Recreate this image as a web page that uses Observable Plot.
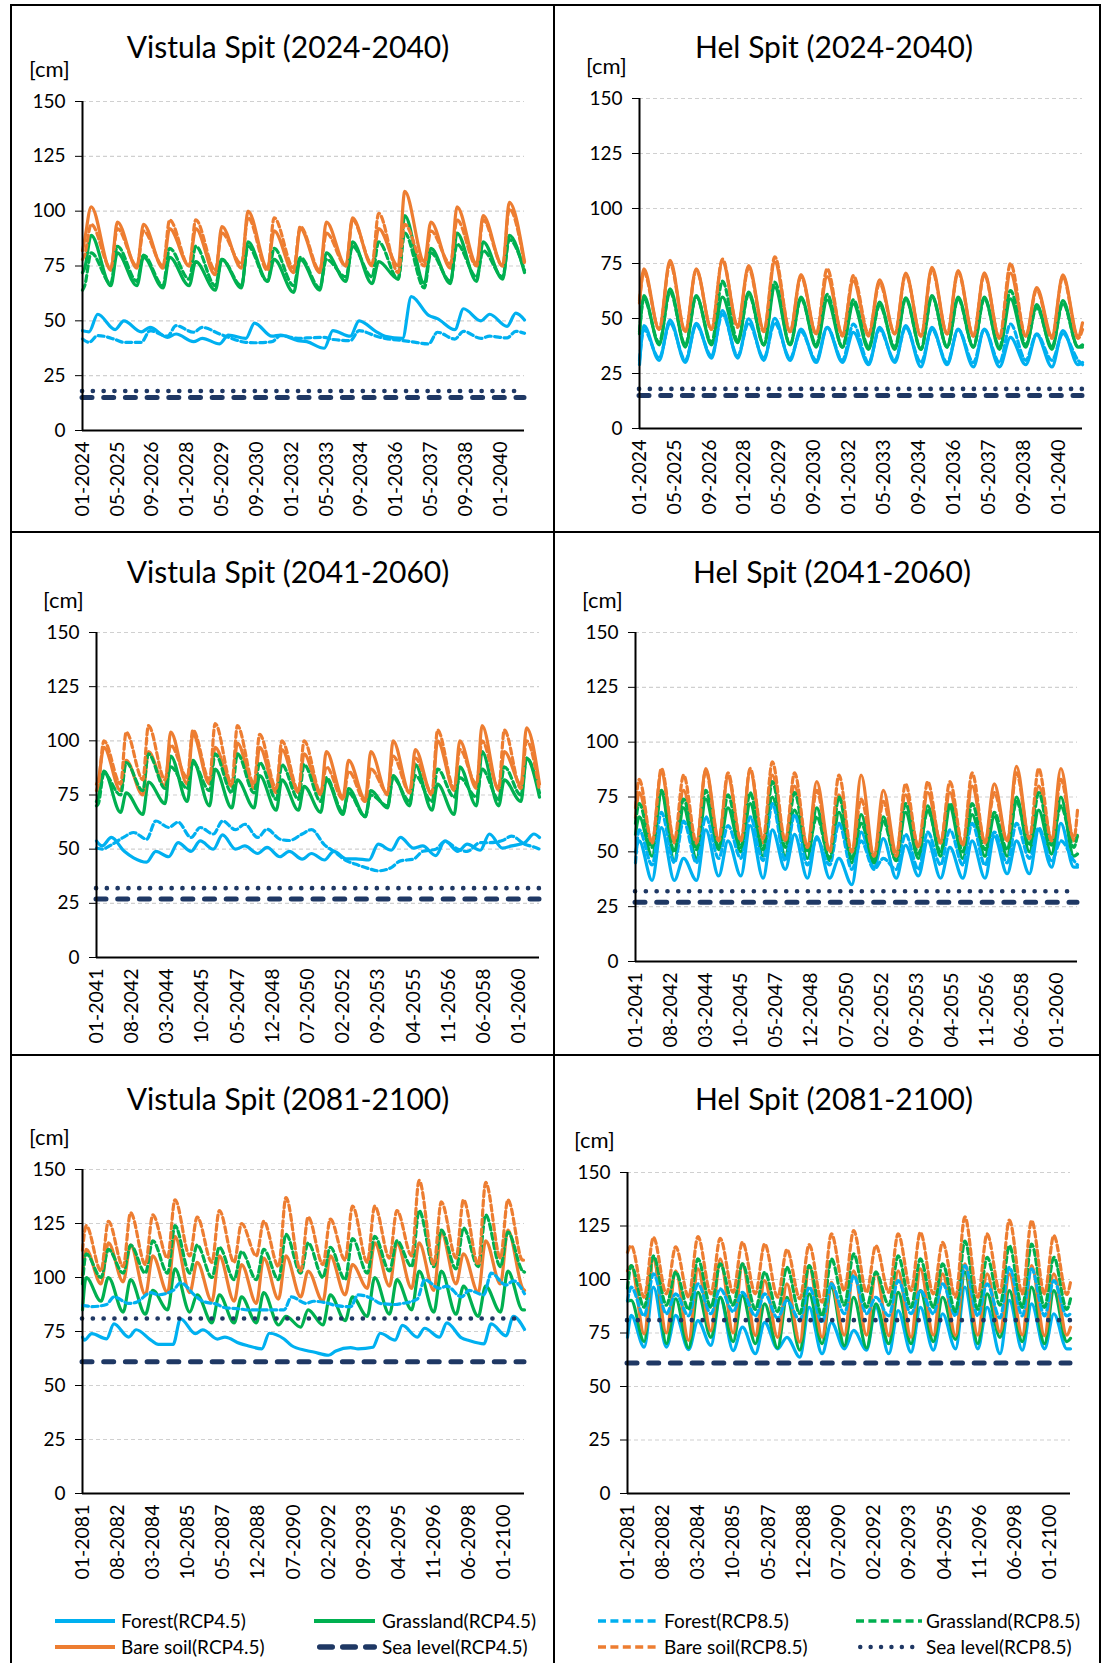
<!DOCTYPE html>
<html>
<head>
<meta charset="utf-8">
<script src="https://cdn.jsdelivr.net/npm/d3@7"></script>
<script src="https://cdn.jsdelivr.net/npm/@observablehq/plot@0.6"></script>
<style>
html,body{margin:0;padding:0;background:#fff;}
#page{position:relative;width:1111px;height:1663px;overflow:hidden;background:#fff;font-family:Lato,"Open Sans",sans-serif;color:#000;}
.bar{position:absolute;background:#000;}
.ptitle{position:absolute;font-size:30px;white-space:nowrap;transform:translate(-50%,-50%);line-height:1;}
.unit{position:absolute;font-size:22px;white-space:nowrap;transform:translateY(-50%);line-height:1;}
.lg{position:absolute;white-space:nowrap;font-size:19px;line-height:1;}
.lg svg{position:absolute;top:-5px;}
.lg span{position:absolute;top:-10px;}
</style>
</head>
<body>
<div id="page"></div>
<script>
// ---------------- DATA ----------------
const panelTitles = ["Vistula Spit (2024-2040)", "Hel Spit (2024-2040)", "Vistula Spit (2041-2060)", "Hel Spit (2041-2060)", "Vistula Spit (2081-2100)", "Hel Spit (2081-2100)"];
const unitLabel = "[cm]";
const yTicks = [0, 25, 50, 75, 100, 125, 150];
const ticks1 = ["01-2024","05-2025","09-2026","01-2028","05-2029","09-2030","01-2032","05-2033","09-2034","01-2036","05-2037","09-2038","01-2040"];
const ticks2 = ["01-2041","08-2042","03-2044","10-2045","05-2047","12-2048","07-2050","02-2052","09-2053","04-2055","11-2056","06-2058","01-2060"];
const ticks3 = ["01-2081","08-2082","03-2084","10-2085","05-2087","12-2088","07-2090","02-2092","09-2093","04-2095","11-2096","06-2098","01-2100"];
const legendLabels = ["Forest(RCP4.5)", "Grassland(RCP4.5)", "Bare soil(RCP4.5)", "Sea level(RCP4.5)", "Forest(RCP8.5)", "Grassland(RCP8.5)", "Bare soil(RCP8.5)", "Sea level(RCP8.5)"];

// sea level per panel [V1,H1,V2,H2,V3,H3]
const seaRCP45 = [15, 15, 27, 27, 61, 61];
const seaRCP85 = [18, 18, 32, 32, 81, 81];

// Each series: [first month value, then per year the two seasonal turning points (in month order), last month value]
// Months of year (0 = Jan) of the two annual turning points
const V1_forestMonths = [3, 7], V1_landMonths = [1, 4];
const H1_months = [2, 9];
const V2_forestMonths = [3, 8], V2_landMonths = [1, 4];
const H2_months = [2, 9];
const V3_forestMonths = [1, 5], V3_landMonths = [2, 10];
const H3_months = [2, 9];

// Vistula Spit 2024-2040
const V1_forest45 = [45.5, 45,53, 46,50, 45,47, 42.5,44, 40.5,42, 39.5,43.5, 42,49, 43,43.5, 41,40.5, 37.5,45.5, 43,50, 45,43, 42,61, 52.5,51, 46,55.5, 50,53, 47.5,53.5, 50.4];
const V1_grass45 = [72, 74,89, 66,81, 66,79, 65,79, 66,77, 64,78, 65,86, 68,78, 63,78, 64,81, 68,86, 67,77, 69,98, 67,83, 67,90, 68,86, 69,89, 72];
const V1_bare45 = [82, 87,102, 73,95, 74,94, 74,92, 75,92, 71,93, 74,100, 74,91, 72,92, 72,95, 75,97, 75,92, 75,109, 77,95, 74,102, 76,98, 75,104, 77];
const V1_forest85 = [41.7, 40.2,43.3, 41.5,40.2, 40.2,45.5, 43,47.8, 44.8,47, 44,42.5, 40.2,40, 40.5,43.3, 42,42.2, 42.5,41.5, 41,45.5, 43,42, 41,40.5, 39.5,44.8, 41.7,45.2, 42,43, 42.2,45.2, 44.3];
const V1_grass85 = [64, 66,81, 67,84, 68,80, 66,83, 69,84, 66,78, 66,84, 68,83, 66,79, 65,78, 70,84, 70,86, 69,90, 65,81, 68,85, 70,82, 70,87, 73];
const V1_bare85 = [78, 80,94, 74,92, 75,91, 75,96, 75,96, 73,90, 76,97, 73,97, 74,93, 73,90, 75,96, 76,99, 72,94, 75,91, 76,96, 75,96, 75,101, 76];

// Hel Spit 2024-2040
const H1_forest45 = [29, 46.8,31, 49.3,30, 47.8,32, 53.6,32, 49.8,31, 50.1,31, 45.2,30, 46,30, 43.7,29, 46,30, 46.8,28, 46,29, 45.2,28, 45.2,28, 41.4,29, 42.7,28, 44.5,29, 30];
const H1_grass45 = [43, 60.4,38, 63.5,37, 60.4,38, 59.7,39, 62,38, 64.2,38, 59.7,37, 58.4,37, 56.6,36, 57.4,36, 59.4,36, 60.4,37, 59.7,37, 59.7,36, 58.9,37, 56.3,36, 58.1,37, 37];
const H1_bare45 = [57, 72.6,45, 76.4,44, 72.6,45, 76,47, 74,45, 75.6,44, 70,43, 69,43, 67,42, 67.6,43, 70.6,42, 73.3,43, 71.8,42, 70.7,41, 70.6,42, 64,42, 69.8,42, 48];
const H1_forest85 = [31, 45,32, 48,31, 47,33, 52,33, 48,32, 48,32, 44,31, 46,31, 47.5,30, 45,31, 46,30, 45,30, 45,30, 45,30, 47.5,31, 43,31, 43,31, 29];
const H1_grass85 = [44, 59,39, 62,38, 60,39, 67,40, 61,38, 66.5,38, 59,38, 61,37, 58.5,37, 56,37, 59,36, 60,37, 59,37, 59,37, 62.7,38, 55,37, 57,37, 38];
const H1_bare85 = [58, 71,45, 75,44, 72,45, 77,46, 73,44, 78,44, 69,43, 72.6,42, 69.5,43, 66,43, 70,42, 72,43, 71,42, 70,41, 75,42, 63,41, 69,41, 45];

// Vistula Spit 2041-2060
const V2_forest45 = [53.8, 51.5,55.4, 49,46, 44,49, 46.5,53, 49,53.8, 50,56.6, 50,51.5, 48,50.8, 46.5,49, 45.4,48, 45,49, 45.5,45.5, 45,52.3, 49.5,55.4, 50.5,51.5, 47,53.8, 49,52.3, 49.5,57, 50.5,51.5, 53,57, 55.4];
const V2_grass45 = [72, 74,86, 67,76, 66,81, 71,93, 72,91, 70,87, 69,82, 69,84, 68,82, 68,79, 67,82, 66,78, 65,77, 69,84, 70,89, 68,80, 66,88, 70,95, 70,82, 72,92, 74];
const V2_bare45 = [80, 82,97, 77,91, 75,95, 79,104, 80,103, 80,97, 79,99, 78,97, 76,96, 76,94, 75,95, 74,91, 73,95, 75,100, 76,96, 75,100, 77,100, 78,107, 77,95, 80,106, 80];
const V2_forest85 = [50.5, 50,52, 55.7,57.7, 54.6,63, 60,62.5, 55.4,60, 57,63, 59,61.5, 55.4,59.2, 54.6,54, 57,59, 52,49, 44.6,43, 41,40, 41.5,44.6, 45.4,49, 50,53.5, 50,49, 53,53, 54,56, 52.3,51, 50];
const V2_grass85 = [70, 71,85, 75,90, 77,94, 78,88, 78,90, 77,94, 76,94, 76,90, 73,89, 73,89, 72,83, 67,76, 65,75, 70,83, 72,84, 72,87, 74,83, 74,87, 73,88, 75,92, 76];
const V2_bare85 = [77, 80,100, 80,104, 82,107, 82,98, 83,105, 82,108, 80,107, 80,103, 78,100, 77,100, 76,88, 73,86, 72,87, 76,93, 76,92, 76,105, 78,96, 80,100, 78,105, 78,100, 77];

// Hel Spit 2041-2060
const H2_forest45 = [50, 55,37, 61,37, 47,37, 60,39, 55,39, 62,38, 60,42, 58,38, 57,38, 47,35, 59,43, 56,38, 53,39, 55,38, 52,38, 55,38, 57,40, 55,40, 60,43, 63,43, 43];
const H2_grass45 = [58, 66,48, 77,46, 70,47, 74,51, 70,50, 72,48, 75,48, 69,47, 70,46, 68,45, 67,45, 66,46, 68,47, 71,48, 70,47, 67,48, 66,48, 75,50, 69,49, 75,48, 49];
const H2_bare45 = [65.6, 77,55, 86,54, 78,53, 88,56, 84,55, 87,54, 85,55, 80,53, 82,51, 76,50, 85,48, 78,50, 76,53, 77,55, 77,53, 80,55, 81,55, 89,56, 80,56, 88,55, 57];
const H2_forest85 = [45, 60,44, 68,45, 64,45, 66,47, 62,47, 66,46, 72,46, 67,44, 56,44, 63,42, 55,42, 47,42, 58,42, 59,44, 60,44, 63,44, 59,45, 63,47, 61,46, 55,46, 44];
const H2_grass85 = [63, 72,52, 78,50, 74,51, 78,52, 76,52, 77,51, 82,52, 77,50, 66,47, 75,47, 63,46, 64,46, 72,49, 69,50, 72,50, 72,51, 68,51, 73,53, 77,53, 71,52, 58];
const H2_bare85 = [70, 83,54, 88,55, 85,54, 87,55, 86,55, 88,56, 91,55, 86,52, 78,50, 85,50, 74,48, 73,48, 81,52, 82,54, 82,53, 86,54, 77,55, 86,56, 88,55, 83,56, 69];

// Vistula Spit 2081-2100
const V3_forest45 = [72.4, 71,74, 71.6,78.5, 72.4,75.8, 71,69, 69,80.9, 74,75.8, 71.5,72.4, 69.5,68.5, 67,74.2, 71.5,68.5, 66.2,65.5, 64,66, 67.5,67, 67.7,74.2, 71,77.8, 72.4,76.5, 72.4,79, 72,70.8, 69.3,78.5, 73,82, 76];
const V3_grass45 = [85, 100,89, 100,84, 99,83, 94,85, 104,84, 92,79, 92,79, 91,79, 93,78, 82,77, 85,78, 92,80, 91,82, 100,83, 99,85, 103,84, 103,83, 96,82, 96,84, 103,85, 85];
const V3_bare45 = [101, 113,97, 116,98, 115,92, 110,93, 119,93, 107,89, 110,89, 106,88, 109,90, 110,91, 103,89, 110,92, 106,95, 116,96, 116,95, 116,94, 121,97, 111,93, 117,97, 122,95, 94];
const V3_forest85 = [87, 87,86.5, 87.5,91, 88,88.5, 93,92, 94,97.5, 91.5,89, 87.5,86, 85.5,85, 85,85, 85,91, 88,89, 88,87, 86.5,92, 90,88, 87.5,88, 90,99, 95,96, 91,94, 92,102, 96.5,98.5, 92.5];
const V3_grass85 = [97, 111,100, 113,102, 115,102, 117,102, 124,102, 115,100, 114,99, 112,99, 113,99, 120,102, 116,100, 114,99, 118,102, 119,103, 117,105, 131,105, 122,104, 123,105, 129,105, 121,103, 102.5];
const V3_bare85 = [112.6, 124,103, 126,105, 130,106, 129,109, 136,110, 128,107, 131,107, 125,110, 126,105, 137,103, 128,106, 127,108, 133,107, 133,109, 131,110, 145,106, 135,109, 136,106, 144,109, 136,108, 108];

// Hel Spit 2081-2100
const H3_forest45 = [73, 83.2,68.4, 96.4,68.4, 83.2,67.2, 80.8,69.2, 91.7,66.8, 77.7,65.3, 80,67.6, 73,63.7, 87,65.3, 80,67.6, 76.2,67, 87,65.3, 85.5,66, 87,67, 84,67.6, 96.4,67.6, 87,65.3, 90.2,67, 88.6,67.6, 84,67.6, 67.6];
const H3_grass45 = [90, 90.2,71, 110.4,70, 91,68, 94,73, 91.7,71, 92.5,70, 88.6,68, 91.7,67, 93.3,70, 96.4,69, 91.7,68, 88.6,70, 94,70, 94.8,71, 91.7,72, 103.4,70, 93.3,73, 94.8,71, 96.4,70, 94.8,71, 72.5];
const H3_bare45 = [104, 106.5,74.6, 109.6,75, 104,71.5, 105,76, 109.6,75, 107.3,73.8, 99.5,73, 98,70.7, 106.5,73, 98.7,74, 104,74, 103.4,73.8, 104,73, 105,74, 102.6,73.8, 107.3,74, 102.6,75.4, 102.6,74, 106.5,73.8, 102.6,74, 77.7];
const H3_forest85 = [90, 96.4,83, 102.6,84, 93.3,83, 98,84, 95.6,85, 94,83, 93.3,82, 90.2,81, 96.4,80, 98,84, 101.8,84, 91.7,83, 99.5,84, 94.8,84, 98,83, 106.5,83, 98,82, 105.7,83, 105,83, 99.5,83, 84];
const H3_grass85 = [96, 106.5,87, 111,88, 103.4,86, 109.6,87, 107.3,88, 107.3,86, 103.4,85, 105.7,84, 106.5,83, 109.6,88, 112,87, 103.4,88, 111,87, 109.6,87, 107.3,85, 118,86, 110.4,88, 115.8,87, 116.6,87, 110.4,86, 91];
const H3_bare85 = [112.7, 115.8,91.7, 119.7,93.3, 115.3,91.7, 120,93.3, 119.2,94, 117.4,93.3, 116.6,91.7, 114,91, 116.3,89.4, 121.3,94.8, 122.8,94, 115.8,94, 121.3,94.8, 122,93.3, 117.4,91.7, 129.3,91.7, 121.3,94, 127.8,93.3, 127.5,93.3, 120.5,93, 98.7];

// ---------------- PANEL DEFINITIONS ----------------
const panels = [
  {title: panelTitles[0], start: 2024, months: 204, ticks: ticks1, forestMonths: V1_forestMonths, landMonths: V1_landMonths,
   series: {fo45: V1_forest45, gr45: V1_grass45, bs45: V1_bare45, fo85: V1_forest85, gr85: V1_grass85, bs85: V1_bare85}, sea45: seaRCP45[0], sea85: seaRCP85[0]},
  {title: panelTitles[1], start: 2024, months: 204, ticks: ticks1, forestMonths: H1_months, landMonths: H1_months,
   series: {fo45: H1_forest45, gr45: H1_grass45, bs45: H1_bare45, fo85: H1_forest85, gr85: H1_grass85, bs85: H1_bare85}, sea45: seaRCP45[1], sea85: seaRCP85[1]},
  {title: panelTitles[2], start: 2041, months: 240, ticks: ticks2, forestMonths: V2_forestMonths, landMonths: V2_landMonths,
   series: {fo45: V2_forest45, gr45: V2_grass45, bs45: V2_bare45, fo85: V2_forest85, gr85: V2_grass85, bs85: V2_bare85}, sea45: seaRCP45[2], sea85: seaRCP85[2]},
  {title: panelTitles[3], start: 2041, months: 240, ticks: ticks2, forestMonths: H2_months, landMonths: H2_months,
   series: {fo45: H2_forest45, gr45: H2_grass45, bs45: H2_bare45, fo85: H2_forest85, gr85: H2_grass85, bs85: H2_bare85}, sea45: seaRCP45[3], sea85: seaRCP85[3]},
  {title: panelTitles[4], start: 2081, months: 240, ticks: ticks3, forestMonths: V3_forestMonths, landMonths: V3_landMonths,
   series: {fo45: V3_forest45, gr45: V3_grass45, bs45: V3_bare45, fo85: V3_forest85, gr85: V3_grass85, bs85: V3_bare85}, sea45: seaRCP45[4], sea85: seaRCP85[4]},
  {title: panelTitles[5], start: 2081, months: 240, ticks: ticks3, forestMonths: H3_months, landMonths: H3_months,
   series: {fo45: H3_forest45, gr45: H3_grass45, bs45: H3_bare45, fo85: H3_forest85, gr85: H3_grass85, bs85: H3_bare85}, sea45: seaRCP45[5], sea85: seaRCP85[5]}
];

// ---------------- LAYOUT & STYLE ----------------
const layout = [
  {x0: 82, x1: 524, y0: 101, y1: 430, tx: 288, ty: 46},
  {x0: 639, x1: 1082, y0: 98, y1: 428, tx: 834, ty: 46},
  {x0: 96, x1: 539, y0: 632, y1: 957, tx: 288, ty: 571},
  {x0: 635, x1: 1077, y0: 632, y1: 961, tx: 832, ty: 571},
  {x0: 82, x1: 524, y0: 1169, y1: 1493, tx: 288, ty: 1098},
  {x0: 627, x1: 1070, y0: 1172, y1: 1493, tx: 834, ty: 1098}
];
const C_FOREST = "#00B0F0", C_GRASS = "#00B050", C_BARE = "#ED7D31", C_SEA = "#1F3864";
const seriesStyles = [
  {key: "fo45", color: C_FOREST, dash: null},
  {key: "gr45", color: C_GRASS, dash: null},
  {key: "bs45", color: C_BARE, dash: null},
  {key: "fo85", color: C_FOREST, dash: "6,3.5"},
  {key: "gr85", color: C_GRASS, dash: "6,3.5"},
  {key: "bs85", color: C_BARE, dash: "6,3.5"}
];
const ML = 60, MR = 12, MT = 12, MB = 95;

const page = document.getElementById("page");
function addDiv(cls, css, text) {
  const d = document.createElement("div");
  d.className = cls;
  Object.assign(d.style, css);
  if (text != null) d.textContent = text;
  page.appendChild(d);
  return d;
}

// frame lines
[[10, 4, 1091, 2], [10, 4, 2, 1659], [553, 4, 2, 1659], [1099, 4, 2, 1659], [10, 531, 1091, 2], [10, 1054, 1091, 2]]
  .forEach(([l, t, w, h]) => addDiv("bar", {left: l + "px", top: t + "px", width: w + "px", height: h + "px"}));

function vertices(values, offsets, N) {
  const years = (values.length - 2) / 2;
  const pts = [{m: 0, v: values[0]}];
  for (let y = 0; y < years; y++) {
    for (let k = 0; k < 2; k++) pts.push({m: 12 * y + offsets[k], v: values[1 + 2 * y + k]});
  }
  pts.push({m: N - 1, v: values[values.length - 1]});
  return pts;
}

panels.forEach((p, i) => {
  const L = layout[i];
  const N = p.months;
  const tickMonths = p.ticks.map(s => {
    const [mm, yy] = s.split("-").map(Number);
    return (yy - p.start) * 12 + (mm - 1);
  });
  const labelOf = new Map(tickMonths.map((m, j) => [m, p.ticks[j]]));
  const marks = [
    Plot.ruleY(yTicks.filter(d => d > 0), {stroke: "#d0d0d0", strokeWidth: 1.2, strokeDasharray: "4,3"})
  ];
  seriesStyles.forEach(s => {
    const offs = s.key.startsWith("fo") ? p.forestMonths : p.landMonths;
    marks.push(Plot.line(vertices(p.series[s.key], offs, N), {
      x: "m", y: "v", stroke: s.color, strokeWidth: 3.2, strokeDasharray: s.dash, curve: "monotone-x", strokeLinejoin: "round"
    }));
  });
  marks.push(Plot.ruleY([p.sea45], {x1: () => 0, x2: () => N - 1, stroke: C_SEA, strokeWidth: 5, strokeDasharray: "10,11.7", strokeLinecap: "round"}));
  marks.push(Plot.ruleY([p.sea85], {x1: () => 0, x2: () => N - 1, stroke: C_SEA, strokeWidth: 4.6, strokeDasharray: "0.1,10.7", strokeLinecap: "round"}));
  marks.push(Plot.ruleY([0], {stroke: "#000", strokeWidth: 2}));
  marks.push(Plot.ruleX([0], {y1: () => 0, y2: () => 150, stroke: "#000", strokeWidth: 2}));
  marks.push(Plot.axisY({ticks: yTicks, tickSize: 7, tickPadding: 10, label: null, tickFormat: d => String(d), fontSize: 19}));
  marks.push(Plot.axisX({ticks: tickMonths, tickFormat: d => labelOf.get(d), tickRotate: -90, tickSize: 0, tickPadding: 11, label: null, fontSize: 19.5}));

  const chart = Plot.plot({
    width: (L.x1 - L.x0) + ML + MR,
    height: (L.y1 - L.y0) + MT + MB,
    marginLeft: ML, marginRight: MR, marginTop: MT, marginBottom: MB,
    x: {domain: [0, N - 1]},
    y: {domain: [0, 150]},
    style: {fontFamily: "Lato, 'Open Sans', sans-serif", fontSize: "19px", color: "#000", background: "transparent", overflow: "visible"},
    marks
  });
  chart.style.position = "absolute";
  chart.style.left = (L.x0 - ML) + "px";
  chart.style.top = (L.y0 - MT) + "px";
  chart.style.maxWidth = "none";
  page.appendChild(chart);

  addDiv("ptitle", {left: L.tx + "px", top: L.ty + "px"}, p.title);
  addDiv("unit", {left: (L.x0 - 53) + "px", top: (L.y0 - 32) + "px"}, unitLabel);
});

// ---------------- LEGEND ----------------
const legendSamples = [
  {color: C_FOREST, width: 4, dash: null, cap: "butt"},
  {color: C_GRASS, width: 4, dash: null, cap: "butt"},
  {color: C_BARE, width: 4, dash: null, cap: "butt"},
  {color: C_SEA, width: 5.5, dash: "12.5,10.5", cap: "round"},
  {color: C_FOREST, width: 3.5, dash: "8,4.4", cap: "butt"},
  {color: C_GRASS, width: 3.5, dash: "8,4.4", cap: "butt"},
  {color: C_BARE, width: 3.5, dash: "8,4.4", cap: "butt"},
  {color: C_SEA, width: 4.4, dash: "0.1,10.3", cap: "round"}
];
const legendPos = [
  {x: 55, w: 60, tx: 121, y: 1621}, {x: 314, w: 61, tx: 382, y: 1621},
  {x: 55, w: 60, tx: 121, y: 1647}, {x: 317, w: 60, tx: 382, y: 1647},
  {x: 598, w: 62, tx: 664, y: 1621}, {x: 856, w: 66, tx: 926, y: 1621},
  {x: 598, w: 62, tx: 664, y: 1647}, {x: 858, w: 58, tx: 926, y: 1647}
];
legendLabels.forEach((lab, i) => {
  const s = legendSamples[i], P = legendPos[i];
  const wrap = addDiv("lg", {left: "0px", top: P.y + "px"});
  const ns = "http://www.w3.org/2000/svg";
  const svg = document.createElementNS(ns, "svg");
  svg.setAttribute("width", P.w + 6);
  svg.setAttribute("height", 10);
  svg.style.left = (P.x - 3) + "px";
  const ln = document.createElementNS(ns, "line");
  ln.setAttribute("x1", 3 + (s.cap === "round" ? s.width / 2 : 0));
  ln.setAttribute("x2", 3 + P.w - (s.cap === "round" ? s.width / 2 : 0));
  ln.setAttribute("y1", 5); ln.setAttribute("y2", 5);
  ln.setAttribute("stroke", s.color);
  ln.setAttribute("stroke-width", s.width);
  ln.setAttribute("stroke-linecap", s.cap);
  if (s.dash) ln.setAttribute("stroke-dasharray", s.dash);
  svg.appendChild(ln);
  wrap.appendChild(svg);
  const sp = document.createElement("span");
  sp.textContent = lab;
  sp.style.left = P.tx + "px";
  wrap.appendChild(sp);
});
</script>
</body>
</html>
